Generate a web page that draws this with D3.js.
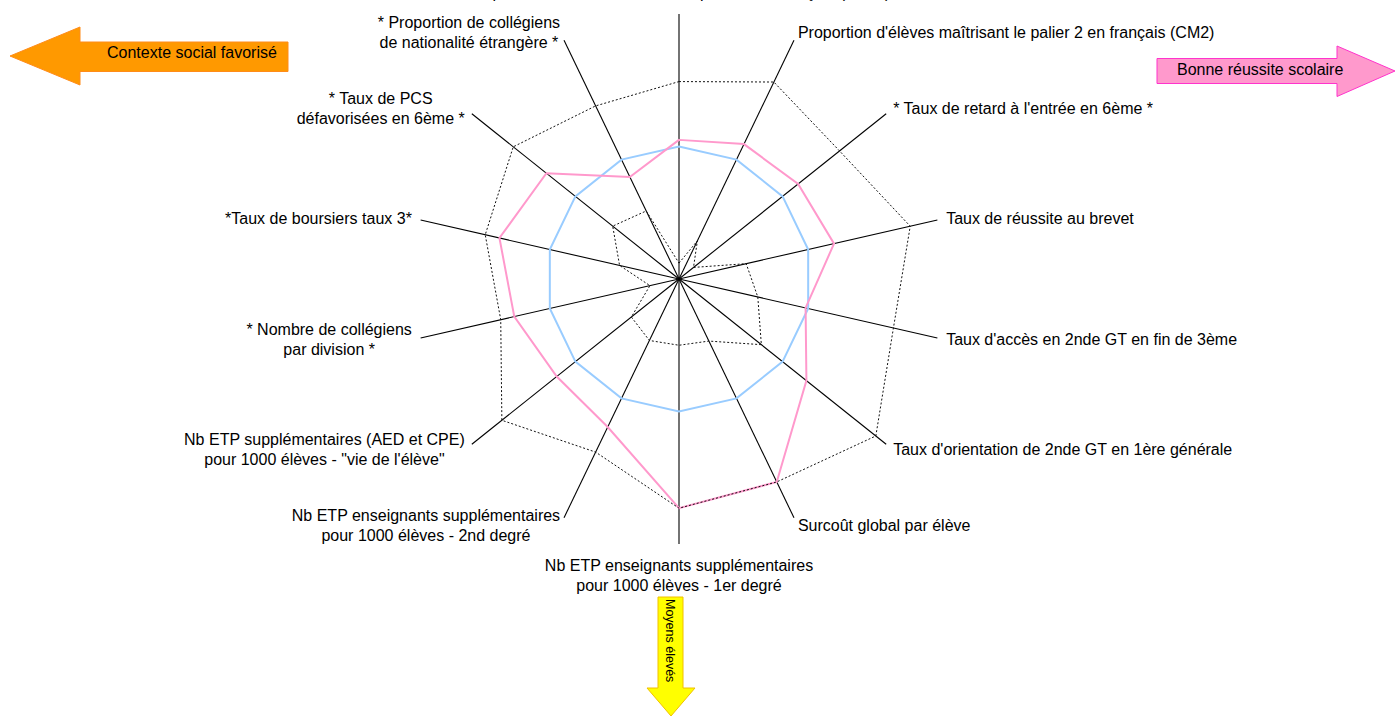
<!DOCTYPE html>
<html>
<head>
<meta charset="utf-8">
<script src="https://cdn.jsdelivr.net/npm/d3@7"></script>
<style>
  body { margin: 0; background: #fff; }
  svg { display: block; font-family: "Liberation Sans", Arial, sans-serif; }
</style>
</head>
<body>
<svg id="chart" width="1396" height="716"></svg>
<script>
// axes of the radar, clockwise from the top
const axisLabels = [
  "Proportion d'élèves maîtrisant le palier 3 en français (3ème)",
  "Proportion d'élèves maîtrisant le palier 2 en français (CM2)",
  "* Taux de retard à l'entrée en 6ème *",
  "Taux de réussite au brevet",
  "Taux d'accès en 2nde GT en fin de 3ème",
  "Taux d'orientation de 2nde GT en 1ère générale",
  "Surcoût global par élève",
  "Nb ETP enseignants supplémentaires\npour 1000 élèves - 1er degré",
  "Nb ETP enseignants supplémentaires\npour 1000 élèves - 2nd degré",
  "Nb ETP supplémentaires (AED et CPE)\npour 1000 élèves - \"vie de l'élève\"",
  "* Nombre de collégiens\npar division *",
  "*Taux de boursiers taux 3*",
  "* Taux de PCS\ndéfavorisées en 6ème *",
  "* Proportion de collégiens\nde nationalité étrangère *"
];

// indices (100 = reference)
const reference     = [100, 100, 100, 100, 100, 100, 100, 100, 100, 100, 100, 100, 100, 100];
const etablissement = [105, 113, 115, 120, 98, 123, 170, 173, 124, 118, 127.5, 139, 128, 85.5];
const maxi          = [149, 165, 155, 179, 166, 190, 170, 173, 145, 171, 138, 150, 160, 145];
const mini          = [12, 32, 14, 52, 61, 79.5, 52, 50, 51.5, 46, 22.5, 46, 64, 57];

const radialMax = 200;

const svg = d3.select('#chart');
const cx = 679, cy = 279;
const R = 265;
const r = d3.scaleLinear().domain([0, radialMax]).range([0, R]);
const n = axisLabels.length;
const angle = d3.scaleLinear().domain([0, n]).range([0, 2 * Math.PI]);

const g = svg.append('g').attr('transform', `translate(${cx},${cy})`);

// spokes
g.selectAll('line.spoke')
  .data(axisLabels)
  .join('line')
  .attr('class', 'spoke')
  .attr('x1', 0).attr('y1', 0)
  .attr('x2', (d, i) => Math.sin(angle(i)) * r(radialMax))
  .attr('y2', (d, i) => -Math.cos(angle(i)) * r(radialMax))
  .attr('stroke', '#000')
  .attr('stroke-width', 1.1);

const radar = d3.lineRadial()
  .angle((d, i) => angle(i))
  .radius(d => r(d))
  .curve(d3.curveLinearClosed);

g.append('path').attr('d', radar(reference))
  .attr('fill', 'none').attr('stroke', '#99ccff').attr('stroke-width', 2);
g.append('path').attr('d', radar(etablissement))
  .attr('fill', 'none').attr('stroke', '#ff99cc').attr('stroke-width', 2);
[maxi, mini].forEach(s => {
  g.append('path').attr('d', radar(s))
    .attr('fill', 'none').attr('stroke', '#111').attr('stroke-width', 1)
    .attr('stroke-dasharray', '2,2');
});

// axis labels
const fontSize = 16, lh = 20, gap = 9;
axisLabels.forEach((label, i) => {
  const a = angle(i);
  const dx = Math.sin(a), dy = -Math.cos(a);
  const px = cx + dx * (R + gap), py = cy + dy * (R + gap);
  const lines = label.split('\n');
  const t = svg.append('text')
    .attr('font-size', fontSize)
    .attr('fill', '#000')
    .attr('text-anchor', 'middle');
  const spans = lines.map(l => t.append('tspan').text(l));
  const bw = d3.max(spans, s => s.node().getComputedTextLength());
  let left;
  if (dx > 0.2) left = px;
  else if (dx < -0.2) left = px - bw;
  else left = px - bw / 2;
  let y0;
  if (dy < -0.95) y0 = py - 7 - (lines.length - 1) * lh;
  else if (dy > 0.95) y0 = py + 18;
  else y0 = py - (lines.length - 1) * lh / 2 + 5.5;
  spans.forEach((s, k) => s.attr('x', left + bw / 2).attr('y', y0 + k * lh));
});

// direction arrows
const arrows = svg.append('g');

const pLeft = d3.path();
pLeft.moveTo(10, 56); pLeft.lineTo(80, 27); pLeft.lineTo(80, 42); pLeft.lineTo(288, 42);
pLeft.lineTo(288, 71.5); pLeft.lineTo(80, 71.5); pLeft.lineTo(80, 85); pLeft.closePath();
arrows.append('path').attr('d', pLeft.toString())
  .attr('fill', '#ff9900').attr('stroke', '#ff8c1a').attr('stroke-width', 1);
arrows.append('text').attr('x', 107).attr('y', 58).attr('font-size', 16)
  .text('Contexte social favorisé');

const pRight = d3.path();
pRight.moveTo(1157, 58.5); pRight.lineTo(1337, 58.5); pRight.lineTo(1337, 46);
pRight.lineTo(1395, 71); pRight.lineTo(1337, 96.5); pRight.lineTo(1337, 83.5);
pRight.lineTo(1157, 83.5); pRight.closePath();
arrows.append('path').attr('d', pRight.toString())
  .attr('fill', '#ff99cc').attr('stroke', '#ff33cc').attr('stroke-width', 1);
arrows.append('text').attr('x', 1177).attr('y', 75).attr('font-size', 16)
  .text('Bonne réussite scolaire');

const pDown = d3.path();
pDown.moveTo(658, 597); pDown.lineTo(683, 597); pDown.lineTo(683, 688); pDown.lineTo(695, 688);
pDown.lineTo(671, 716); pDown.lineTo(647, 688); pDown.lineTo(658, 688); pDown.closePath();
arrows.append('path').attr('d', pDown.toString())
  .attr('fill', '#ffff00').attr('stroke', '#f0c000').attr('stroke-width', 1);
arrows.append('text').attr('transform', 'translate(666,599) rotate(90)')
  .attr('font-size', 12.5).text('Moyens élevés');
</script>
</body>
</html>
